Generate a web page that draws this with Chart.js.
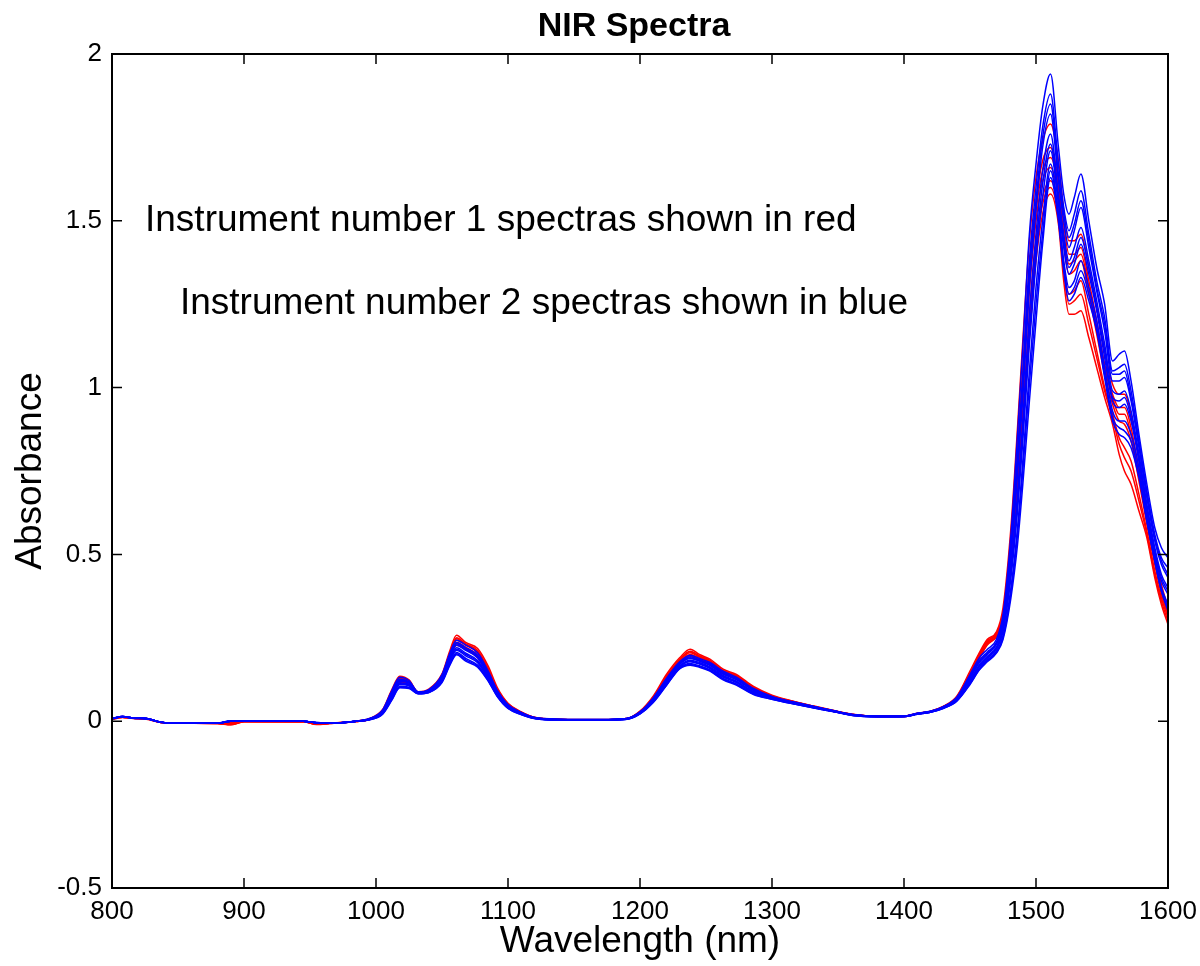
<!DOCTYPE html>
<html>
<head>
<meta charset="utf-8">
<title>NIR Spectra</title>
<script src="https://cdn.jsdelivr.net/npm/chart.js@4.4.1/dist/chart.umd.min.js"></script>
<style>
  html, body { margin: 0; padding: 0; background: #fff; }
  canvas { display: block; }
</style>
</head>
<body>
<canvas id="nir" width="1200" height="966"></canvas>
<script>
// wavelengths (nm) the spectra were read at
var wavelength = [
  800, 808, 816, 826, 836, 846, 880, 890, 900, 945, 955, 965,
  985, 995, 1005, 1012, 1018, 1025, 1032, 1040, 1050, 1056, 1061, 1068,
  1077, 1085, 1092, 1100, 1110, 1120, 1140, 1170, 1190, 1200, 1210, 1220,
  1230, 1238, 1245, 1253, 1263, 1273, 1286, 1300, 1316, 1331, 1346, 1361,
  1380, 1400, 1410, 1420, 1430, 1440, 1450, 1457, 1463, 1470, 1475, 1481,
  1486, 1490, 1495, 1500, 1505, 1511, 1517, 1521, 1525, 1529, 1534, 1540,
  1546, 1552, 1558, 1563, 1567, 1572, 1578, 1584, 1590, 1595, 1600
];

// instrument 1 (red)
var red1 = [
  0.008, 0.014, 0.010, 0.008, -0.002, -0.006, -0.006, -0.004, 0.000, 0.000, -0.006, -0.006,
  0.000, 0.008, 0.035, 0.095, 0.135, 0.124, 0.088, 0.096, 0.142, 0.212, 0.258, 0.236,
  0.218, 0.165, 0.100, 0.054, 0.028, 0.012, 0.006, 0.005, 0.008, 0.030, 0.075, 0.140,
  0.190, 0.216, 0.200, 0.186, 0.156, 0.140, 0.104, 0.078, 0.060, 0.046, 0.033, 0.021,
  0.015, 0.015, 0.024, 0.030, 0.045, 0.075, 0.150, 0.205, 0.245, 0.268, 0.340, 0.580,
  0.88, 1.14, 1.44, 1.63, 1.74, 1.79, 1.68, 1.53, 1.44, 1.44, 1.46, 1.36,
  1.24, 1.11, 1.01, 0.98, 0.98, 0.92, 0.78, 0.63, 0.50, 0.41, 0.34
];
var red2 = [
  0.006, 0.012, 0.009, 0.007, -0.003, -0.006, -0.007, -0.010, -0.001, -0.001, -0.008, -0.006,
  0.000, 0.007, 0.032, 0.090, 0.130, 0.120, 0.087, 0.094, 0.138, 0.205, 0.250, 0.232,
  0.212, 0.158, 0.096, 0.052, 0.027, 0.011, 0.005, 0.004, 0.008, 0.029, 0.072, 0.135,
  0.185, 0.210, 0.196, 0.182, 0.152, 0.137, 0.101, 0.076, 0.059, 0.045, 0.032, 0.020,
  0.015, 0.015, 0.023, 0.029, 0.044, 0.073, 0.146, 0.200, 0.240, 0.264, 0.325, 0.545,
  0.82, 1.06, 1.36, 1.56, 1.68, 1.72, 1.62, 1.49, 1.40, 1.40, 1.42, 1.32,
  1.20, 1.07, 0.98, 0.94, 0.94, 0.88, 0.75, 0.61, 0.48, 0.39, 0.33
];
var red3 = [
  0.007, 0.013, 0.010, 0.008, -0.002, -0.006, -0.006, -0.008, 0.000, -0.002, -0.009, -0.006,
  -0.001, 0.006, 0.030, 0.085, 0.125, 0.117, 0.086, 0.093, 0.135, 0.200, 0.243, 0.228,
  0.205, 0.150, 0.092, 0.050, 0.026, 0.011, 0.005, 0.004, 0.007, 0.028, 0.070, 0.130,
  0.180, 0.205, 0.192, 0.178, 0.148, 0.134, 0.099, 0.075, 0.058, 0.044, 0.031, 0.020,
  0.014, 0.015, 0.023, 0.029, 0.043, 0.071, 0.142, 0.196, 0.236, 0.260, 0.312, 0.510,
  0.76, 0.99, 1.29, 1.50, 1.62, 1.66, 1.57, 1.43, 1.34, 1.35, 1.38, 1.28,
  1.16, 1.04, 0.95, 0.90, 0.89, 0.84, 0.72, 0.59, 0.47, 0.38, 0.32
];
var red4 = [
  0.005, 0.011, 0.008, 0.006, -0.003, -0.006, -0.007, -0.011, -0.002, -0.001, -0.010, -0.007,
  -0.001, 0.006, 0.028, 0.080, 0.120, 0.114, 0.085, 0.092, 0.132, 0.195, 0.236, 0.222,
  0.198, 0.142, 0.088, 0.048, 0.025, 0.010, 0.004, 0.003, 0.007, 0.027, 0.068, 0.126,
  0.176, 0.200, 0.188, 0.174, 0.145, 0.131, 0.097, 0.074, 0.057, 0.043, 0.031, 0.019,
  0.014, 0.014, 0.022, 0.028, 0.042, 0.070, 0.138, 0.192, 0.232, 0.256, 0.300, 0.480,
  0.71, 0.93, 1.22, 1.44, 1.57, 1.62, 1.53, 1.37, 1.28, 1.29, 1.32, 1.22,
  1.11, 1.00, 0.92, 0.85, 0.82, 0.78, 0.68, 0.57, 0.45, 0.37, 0.31
];
var red5 = [
  0.006, 0.012, 0.009, 0.007, -0.003, -0.006, -0.006, -0.009, -0.001, -0.002, -0.008, -0.006,
  0.000, 0.005, 0.026, 0.075, 0.115, 0.110, 0.084, 0.090, 0.128, 0.188, 0.228, 0.215,
  0.190, 0.136, 0.085, 0.046, 0.024, 0.010, 0.004, 0.003, 0.007, 0.026, 0.065, 0.122,
  0.172, 0.196, 0.184, 0.170, 0.142, 0.128, 0.095, 0.072, 0.056, 0.042, 0.030, 0.019,
  0.014, 0.014, 0.022, 0.028, 0.042, 0.068, 0.135, 0.188, 0.228, 0.252, 0.290, 0.450,
  0.66, 0.87, 1.15, 1.38, 1.52, 1.58, 1.49, 1.32, 1.22, 1.22, 1.23, 1.15,
  1.06, 0.97, 0.89, 0.80, 0.75, 0.71, 0.63, 0.55, 0.43, 0.35, 0.29
];
var red6 = [
  0.007, 0.013, 0.009, 0.007, -0.003, -0.006, -0.006, -0.007, 0.000, -0.001, -0.007, -0.006,
  0.000, 0.007, 0.031, 0.088, 0.128, 0.119, 0.087, 0.094, 0.137, 0.203, 0.247, 0.230,
  0.208, 0.154, 0.094, 0.051, 0.027, 0.011, 0.005, 0.004, 0.008, 0.029, 0.071, 0.133,
  0.183, 0.208, 0.194, 0.180, 0.150, 0.136, 0.100, 0.076, 0.059, 0.045, 0.032, 0.020,
  0.015, 0.015, 0.023, 0.029, 0.044, 0.072, 0.144, 0.198, 0.238, 0.262, 0.318, 0.527,
  0.79, 1.02, 1.32, 1.53, 1.65, 1.69, 1.60, 1.46, 1.37, 1.38, 1.40, 1.30,
  1.18, 1.06, 0.97, 0.92, 0.92, 0.86, 0.74, 0.60, 0.48, 0.39, 0.32
];
var red7 = [
  0.006, 0.012, 0.009, 0.007, -0.003, -0.006, -0.007, -0.010, -0.002, -0.002, -0.009, -0.007,
  -0.001, 0.005, 0.027, 0.078, 0.118, 0.112, 0.085, 0.091, 0.130, 0.192, 0.232, 0.218,
  0.194, 0.139, 0.086, 0.047, 0.024, 0.010, 0.004, 0.003, 0.007, 0.026, 0.066, 0.124,
  0.174, 0.198, 0.186, 0.172, 0.143, 0.130, 0.096, 0.073, 0.056, 0.042, 0.030, 0.019,
  0.014, 0.014, 0.022, 0.028, 0.042, 0.069, 0.136, 0.190, 0.230, 0.254, 0.295, 0.465,
  0.68, 0.90, 1.19, 1.41, 1.55, 1.60, 1.51, 1.35, 1.25, 1.26, 1.28, 1.19,
  1.09, 0.99, 0.91, 0.83, 0.79, 0.75, 0.66, 0.56, 0.44, 0.36, 0.30
];

// instrument 2 (blue)
var blue1 = [
  0.008, 0.014, 0.010, 0.008, -0.002, -0.006, -0.006, 0.000, 0.000, 0.000, -0.005, -0.006,
  0.000, 0.008, 0.034, 0.092, 0.132, 0.122, 0.088, 0.095, 0.140, 0.205, 0.243, 0.228,
  0.205, 0.150, 0.092, 0.050, 0.026, 0.011, 0.006, 0.005, 0.008, 0.028, 0.070, 0.128,
  0.178, 0.198, 0.188, 0.176, 0.150, 0.132, 0.098, 0.074, 0.058, 0.045, 0.032, 0.020,
  0.015, 0.015, 0.024, 0.030, 0.044, 0.072, 0.140, 0.190, 0.215, 0.245, 0.320, 0.560,
  0.86, 1.12, 1.46, 1.67, 1.84, 1.94, 1.72, 1.58, 1.52, 1.57, 1.64, 1.50,
  1.36, 1.25, 1.08, 1.10, 1.11, 1.02, 0.86, 0.71, 0.58, 0.52, 0.49
];
var blue2 = [
  0.007, 0.013, 0.010, 0.008, -0.002, -0.006, -0.006, 0.000, 0.000, 0.000, -0.004, -0.006,
  0.000, 0.007, 0.031, 0.086, 0.126, 0.118, 0.087, 0.093, 0.136, 0.198, 0.236, 0.220,
  0.198, 0.144, 0.089, 0.048, 0.025, 0.011, 0.005, 0.005, 0.008, 0.027, 0.067, 0.124,
  0.174, 0.193, 0.184, 0.172, 0.146, 0.128, 0.095, 0.073, 0.057, 0.044, 0.032, 0.020,
  0.015, 0.015, 0.023, 0.029, 0.043, 0.070, 0.134, 0.182, 0.207, 0.237, 0.305, 0.525,
  0.80, 1.04, 1.38, 1.60, 1.78, 1.88, 1.67, 1.54, 1.47, 1.52, 1.59, 1.46,
  1.32, 1.21, 1.05, 1.06, 1.07, 0.99, 0.84, 0.69, 0.56, 0.49, 0.46
];
var blue3 = [
  0.008, 0.014, 0.009, 0.007, -0.003, -0.006, -0.006, 0.001, 0.000, 0.000, -0.005, -0.006,
  0.000, 0.006, 0.029, 0.081, 0.120, 0.114, 0.086, 0.092, 0.132, 0.192, 0.228, 0.212,
  0.190, 0.138, 0.086, 0.046, 0.024, 0.010, 0.005, 0.004, 0.007, 0.026, 0.064, 0.120,
  0.170, 0.188, 0.180, 0.167, 0.141, 0.124, 0.092, 0.071, 0.056, 0.043, 0.031, 0.019,
  0.014, 0.015, 0.023, 0.029, 0.042, 0.068, 0.128, 0.175, 0.200, 0.230, 0.292, 0.490,
  0.74, 0.97, 1.30, 1.53, 1.72, 1.82, 1.62, 1.50, 1.42, 1.47, 1.54, 1.42,
  1.29, 1.17, 1.02, 1.02, 1.03, 0.96, 0.82, 0.67, 0.54, 0.47, 0.43
];
var blue4 = [
  0.007, 0.013, 0.010, 0.008, -0.002, -0.006, -0.006, 0.000, 0.000, 0.000, -0.005, -0.006,
  0.000, 0.006, 0.027, 0.076, 0.115, 0.110, 0.085, 0.090, 0.128, 0.186, 0.220, 0.204,
  0.182, 0.133, 0.082, 0.044, 0.023, 0.010, 0.004, 0.004, 0.007, 0.025, 0.062, 0.116,
  0.166, 0.183, 0.176, 0.163, 0.137, 0.120, 0.089, 0.070, 0.055, 0.043, 0.031, 0.019,
  0.014, 0.014, 0.022, 0.028, 0.041, 0.066, 0.123, 0.169, 0.194, 0.223, 0.280, 0.460,
  0.68, 0.90, 1.22, 1.46, 1.65, 1.76, 1.58, 1.46, 1.38, 1.42, 1.48, 1.38,
  1.26, 1.13, 0.99, 0.98, 0.99, 0.93, 0.80, 0.65, 0.52, 0.44, 0.40
];
var blue5 = [
  0.008, 0.014, 0.010, 0.008, -0.002, -0.006, -0.006, 0.000, 0.001, 0.000, -0.004, -0.006,
  0.000, 0.005, 0.025, 0.071, 0.110, 0.106, 0.084, 0.089, 0.124, 0.180, 0.213, 0.196,
  0.175, 0.128, 0.079, 0.042, 0.022, 0.009, 0.004, 0.004, 0.007, 0.024, 0.060, 0.113,
  0.163, 0.178, 0.171, 0.158, 0.132, 0.116, 0.086, 0.068, 0.054, 0.042, 0.030, 0.018,
  0.014, 0.014, 0.022, 0.028, 0.040, 0.064, 0.118, 0.163, 0.188, 0.216, 0.268, 0.430,
  0.63, 0.84, 1.13, 1.38, 1.57, 1.71, 1.55, 1.42, 1.34, 1.37, 1.43, 1.34,
  1.23, 1.09, 0.96, 0.94, 0.95, 0.90, 0.78, 0.63, 0.50, 0.42, 0.38
];
var blue6 = [
  0.007, 0.013, 0.009, 0.007, -0.003, -0.006, -0.006, 0.001, 0.000, 0.000, -0.005, -0.006,
  0.000, 0.005, 0.023, 0.067, 0.105, 0.102, 0.083, 0.087, 0.120, 0.174, 0.206, 0.188,
  0.168, 0.124, 0.076, 0.040, 0.021, 0.009, 0.004, 0.003, 0.006, 0.023, 0.058, 0.110,
  0.160, 0.173, 0.166, 0.154, 0.128, 0.112, 0.083, 0.067, 0.053, 0.041, 0.030, 0.018,
  0.014, 0.014, 0.021, 0.027, 0.040, 0.062, 0.114, 0.158, 0.183, 0.210, 0.256, 0.400,
  0.58, 0.78, 1.05, 1.30, 1.50, 1.67, 1.52, 1.38, 1.30, 1.32, 1.38, 1.30,
  1.20, 1.06, 0.93, 0.90, 0.90, 0.86, 0.76, 0.61, 0.49, 0.40, 0.35
];
var blue7 = [
  0.008, 0.014, 0.010, 0.008, -0.002, -0.006, -0.006, 0.000, 0.000, 0.000, -0.005, -0.006,
  0.000, 0.004, 0.021, 0.063, 0.100, 0.098, 0.082, 0.086, 0.116, 0.168, 0.199, 0.180,
  0.162, 0.120, 0.073, 0.038, 0.020, 0.008, 0.003, 0.003, 0.006, 0.022, 0.056, 0.107,
  0.157, 0.168, 0.162, 0.150, 0.124, 0.108, 0.080, 0.066, 0.052, 0.040, 0.029, 0.017,
  0.013, 0.014, 0.021, 0.027, 0.039, 0.060, 0.110, 0.153, 0.178, 0.204, 0.245, 0.370,
  0.53, 0.71, 0.96, 1.20, 1.43, 1.63, 1.50, 1.35, 1.26, 1.28, 1.33, 1.26,
  1.17, 1.03, 0.90, 0.86, 0.85, 0.82, 0.73, 0.60, 0.48, 0.39, 0.33
];
var blue8 = [
  0.008, 0.014, 0.010, 0.008, -0.002, -0.006, -0.006, 0.000, 0.000, 0.000, -0.005, -0.006,
  0.000, 0.007, 0.030, 0.084, 0.123, 0.116, 0.087, 0.093, 0.134, 0.195, 0.232, 0.216,
  0.194, 0.141, 0.088, 0.047, 0.025, 0.010, 0.005, 0.004, 0.008, 0.027, 0.066, 0.122,
  0.172, 0.190, 0.182, 0.170, 0.144, 0.126, 0.094, 0.072, 0.056, 0.044, 0.031, 0.019,
  0.015, 0.015, 0.023, 0.029, 0.043, 0.069, 0.131, 0.178, 0.203, 0.233, 0.298, 0.505,
  0.77, 1.00, 1.34, 1.56, 1.75, 1.85, 1.64, 1.52, 1.45, 1.49, 1.56, 1.44,
  1.30, 1.19, 1.04, 1.04, 1.05, 0.97, 0.83, 0.68, 0.55, 0.48, 0.44
];
var blue9 = [
  0.007, 0.013, 0.010, 0.008, -0.002, -0.006, -0.006, 0.000, 0.000, 0.000, -0.005, -0.006,
  0.000, 0.005, 0.026, 0.073, 0.112, 0.108, 0.084, 0.089, 0.126, 0.183, 0.216, 0.200,
  0.178, 0.130, 0.080, 0.043, 0.022, 0.009, 0.004, 0.004, 0.007, 0.024, 0.061, 0.114,
  0.164, 0.180, 0.173, 0.160, 0.134, 0.118, 0.087, 0.069, 0.054, 0.042, 0.030, 0.018,
  0.014, 0.014, 0.022, 0.028, 0.040, 0.065, 0.120, 0.166, 0.191, 0.219, 0.274, 0.445,
  0.655, 0.87, 1.17, 1.42, 1.61, 1.73, 1.56, 1.44, 1.36, 1.39, 1.45, 1.36,
  1.24, 1.11, 0.97, 0.96, 0.97, 0.91, 0.79, 0.64, 0.51, 0.43, 0.39
];
var blue10 = [
  0.008, 0.014, 0.010, 0.008, -0.002, -0.006, -0.006, 0.000, 0.000, 0.000, -0.005, -0.006,
  0.000, 0.004, 0.022, 0.065, 0.102, 0.100, 0.082, 0.086, 0.118, 0.171, 0.202, 0.184,
  0.165, 0.122, 0.074, 0.039, 0.020, 0.008, 0.003, 0.003, 0.006, 0.022, 0.057, 0.108,
  0.158, 0.170, 0.164, 0.152, 0.126, 0.110, 0.081, 0.066, 0.052, 0.040, 0.029, 0.017,
  0.013, 0.014, 0.021, 0.027, 0.039, 0.061, 0.112, 0.155, 0.180, 0.207, 0.250, 0.385,
  0.56, 0.75, 1.01, 1.25, 1.46, 1.65, 1.51, 1.36, 1.28, 1.30, 1.35, 1.28,
  1.18, 1.04, 0.91, 0.88, 0.87, 0.84, 0.74, 0.60, 0.48, 0.39, 0.34
];

var redSpectra = [red1, red2, red3, red4, red5, red6, red7];
var blueSpectra = [blue1, blue2, blue3, blue4, blue5, blue6, blue7, blue8, blue9, blue10];

var xTicks = [800, 900, 1000, 1100, 1200, 1300, 1400, 1500, 1600];
var yTicks = [-0.5, 0, 0.5, 1, 1.5, 2];

var chartTitle = "NIR Spectra";
// text placed like matlab's text(x, y, ...)
var noteText = ["Instrument number 1 spectras shown in red", "Instrument number 2 spectras shown in blue"];
var noteX = [825, 851.5];
var noteY = [1.5, 1.25];

var FONT = '"Liberation Sans", Arial, Helvetica, sans-serif';

function makeSet(values, colour, order) {
  return {
    data: values.map(function(v, i) { return {x: wavelength[i], y: v}; }),
    borderColor: colour,
    backgroundColor: colour,
    borderWidth: 1.5,
    pointRadius: 0,
    fill: false,
    cubicInterpolationMode: "monotone",
    order: order
  };
}

var datasets = [];
redSpectra.forEach(function(s) { datasets.push(makeSet(s, "#FF0000", 1)); });
blueSpectra.forEach(function(s) { datasets.push(makeSet(s, "#0000FF", 0)); });

// box round the plot, inward ticks on all four sides, title and the two notes
var matlabBox = {
  id: "matlabBox",
  afterDatasetsDraw: function(chart) {
    var ctx = chart.ctx, a = chart.chartArea;
    var x = chart.scales.x, y = chart.scales.y;
    ctx.save();
    ctx.strokeStyle = "#000";
    ctx.lineWidth = 1.5;
    ctx.beginPath();
    xTicks.forEach(function(t) {
      var px = x.getPixelForValue(t);
      ctx.moveTo(px, a.bottom); ctx.lineTo(px, a.bottom - 10);
      ctx.moveTo(px, a.top); ctx.lineTo(px, a.top + 10);
    });
    yTicks.forEach(function(t) {
      var py = y.getPixelForValue(t);
      ctx.moveTo(a.left, py); ctx.lineTo(a.left + 10, py);
      ctx.moveTo(a.right, py); ctx.lineTo(a.right - 10, py);
    });
    ctx.stroke();
    ctx.lineWidth = 2;
    ctx.strokeRect(a.left, a.top, a.right - a.left, a.bottom - a.top);

    ctx.fillStyle = "#000";
    ctx.textBaseline = "middle";
    ctx.textAlign = "center";
    ctx.font = "bold 34px " + FONT;
    ctx.fillText(chartTitle, (a.left + a.right) / 2 - 6, 27);

    ctx.font = "37px " + FONT;
    ctx.textAlign = "left";
    noteText.forEach(function(txt, i) {
      ctx.fillText(txt, x.getPixelForValue(noteX[i]), y.getPixelForValue(noteY[i]));
    });
    ctx.restore();
  }
};

var nirChart = new Chart(document.getElementById("nir").getContext("2d"), {
  type: "line",
  data: { datasets: datasets },
  options: {
    responsive: false,
    devicePixelRatio: 1,
    animation: false,
    events: [],
    layout: { padding: { left: 0, right: 32, top: 54, bottom: 0 } },
    plugins: {
      legend: { display: false },
      tooltip: { enabled: false },
      title: { display: false }
    },
    scales: {
      x: {
        type: "linear",
        min: 800,
        max: 1600,
        afterBuildTicks: function(s) { s.ticks = xTicks.map(function(v) { return {value: v}; }); },
        afterFit: function(s) { s.height = 78; s.paddingLeft = 0; s.paddingRight = 0; },
        grid: { display: false, drawTicks: false, tickLength: 0 },
        border: { display: false },
        ticks: {
          color: "#000",
          font: { family: FONT, size: 26 },
          padding: 8,
          maxRotation: 0,
          autoSkip: false,
          callback: function(v) { return String(v); }
        },
        title: {
          display: true,
          text: "Wavelength (nm)",
          color: "#000",
          font: { family: FONT, size: 37 },
          padding: { top: 0, bottom: 2 }
        }
      },
      y: {
        min: -0.5,
        max: 2,
        afterBuildTicks: function(s) { s.ticks = yTicks.map(function(v) { return {value: v}; }); },
        afterFit: function(s) { s.width = 112; s.paddingTop = 0; s.paddingBottom = 0; },
        grid: { display: false, drawTicks: false, tickLength: 0 },
        border: { display: false },
        ticks: {
          color: "#000",
          font: { family: FONT, size: 26 },
          padding: 10,
          autoSkip: false,
          callback: function(v) { return String(v); }
        },
        title: {
          display: true,
          text: "Absorbance",
          color: "#000",
          font: { family: FONT, size: 37 },
          padding: { top: 9, bottom: 0 }
        }
      }
    }
  },
  plugins: [matlabBox]
});
</script>
</body>
</html>
